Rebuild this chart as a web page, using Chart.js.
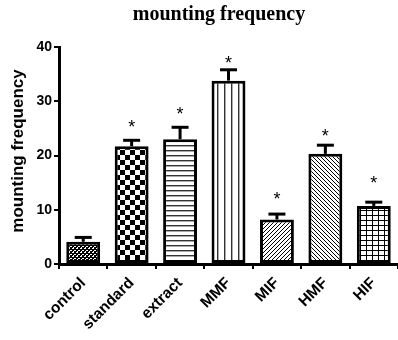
<!DOCTYPE html>
<html>
<head>
<meta charset="utf-8">
<script src="https://cdn.jsdelivr.net/npm/chart.js@4/dist/chart.umd.min.js"></script>
<style>
  html, body { margin: 0; padding: 0; background: #fff; }
  #wrap { width: 398px; height: 340px; }
</style>
</head>
<body>
<div id="wrap"><canvas id="c"></canvas></div>
<script>
/* ─── DATA ───────────────────────────────────────────── */
const groups = ['control', 'standard', 'extract', 'MMF', 'MIF', 'HMF', 'HIF']
const means  = [4.1, 21.7, 23.0, 33.8, 8.2, 20.3, 10.7]
const errs   = [0.8, 1.1, 2.2, 2.0, 1.0, 1.6, 0.7]
// level (in y units) where the significance star sits
const starAt = [null, 25.9, 28.4, 37.8, 12.7, 24.3, 15.7]
const yTicks = [0, 10, 20, 30, 40]

const TITLE  = 'mounting frequency'
const YTITLE = 'mounting frequency'
const SANS   = '"Liberation Sans", Arial, sans-serif'
const SERIF  = '"Liberation Serif", "Times New Roman", serif'

/* ─── PATTERNS ───────────────────────────────────────── */
const canvas = document.getElementById('c')
const ctx = canvas.getContext('2d')

const mkPattern = (w, h, draw) => {
  const cv = document.createElement('canvas')
  cv.width = w; cv.height = h
  const g = cv.getContext('2d')
  g.fillStyle = '#fff'
  g.fillRect(0, 0, w, h)
  g.fillStyle = '#000'
  draw(g, w, h)
  return ctx.createPattern(cv, 'repeat')
}

const patterns = [
  // control: fine dark speckle
  mkPattern(4, 4, g => {
    g.fillRect(0, 0, 4, 4)
    g.fillStyle = '#fff'
    g.fillRect(0, 0, 2, 1); g.fillRect(2, 2, 2, 1); g.fillRect(1, 3, 1, 1)
  }),
  // standard: checkerboard
  mkPattern(10, 10, g => { g.fillRect(0, 0, 5, 5); g.fillRect(5, 5, 5, 5) }),
  // extract: horizontal lines
  mkPattern(1, 5, g => { g.fillStyle = '#333'; g.fillRect(0, 0, 1, 1); g.fillStyle = '#aaa'; g.fillRect(0, 1, 1, 1) }),
  // MMF: vertical lines
  mkPattern(7, 1, g => { g.fillStyle = '#333'; g.fillRect(0, 0, 1, 1); g.fillStyle = '#aaa'; g.fillRect(1, 0, 1, 1) }),
  // MIF: "/" hatch
  mkPattern(4, 4, g => { for (let i = 0; i < 4; i++) g.fillRect(i, 3 - i, 1, 1) }),
  // HMF: "\" hatch
  mkPattern(4, 4, g => { for (let i = 0; i < 4; i++) g.fillRect(i, i, 1, 1) }),
  // HIF: grid
  mkPattern(6, 5, g => { g.fillRect(0, 0, 1, 5); g.fillRect(0, 0, 6, 1) }),
]

/* ─── EXTRAS: error bars, stars, titles ─────────────── */
const extras = {
  id: 'extras',
  afterDatasetsDraw(chart) {
    const { ctx, scales: { x, y } } = chart
    ctx.save()
    ctx.strokeStyle = '#000'
    ctx.fillStyle = '#000'
    ctx.lineWidth = 3
    means.forEach((m, i) => {
      const cx = x.getPixelForValue(i)
      const yTop = y.getPixelForValue(m)
      const yErr = y.getPixelForValue(m + errs[i])
      ctx.beginPath(); ctx.moveTo(cx, yTop); ctx.lineTo(cx, yErr); ctx.stroke()
      ctx.beginPath(); ctx.moveTo(cx - 8.5, yErr); ctx.lineTo(cx + 8.5, yErr); ctx.stroke()
      if (starAt[i] != null) {
        ctx.font = '18px ' + SANS
        ctx.textAlign = 'center'
        ctx.textBaseline = 'alphabetic'
        ctx.fillText('*', cx, y.getPixelForValue(starAt[i]) + 10)
      }
    })
    ctx.restore()
  },
  afterDraw(chart) {
    const { ctx } = chart
    ctx.save()
    ctx.fillStyle = '#000'
    ctx.textAlign = 'center'
    ctx.textBaseline = 'alphabetic'
    ctx.font = 'bold 20px ' + SERIF
    ctx.fillText(TITLE, 219, 19.5)
    ctx.translate(18, 151)
    ctx.rotate(-Math.PI / 2)
    ctx.textBaseline = 'middle'
    ctx.font = 'bold 17px ' + SANS
    ctx.fillText(YTITLE, 0, 0)
    ctx.restore()
  },
}

/* ─── CHART ─────────────────────────────────────────── */
const tickGrid = { display: true, drawOnChartArea: false, drawTicks: true, tickLength: 5, color: '#000', lineWidth: 2 }

new Chart(canvas, {
  type: 'bar',
  data: {
    labels: groups,
    datasets: [{
      data: means,
      backgroundColor: patterns,
      borderColor: '#000',
      borderWidth: 3,
      borderSkipped: false,
      barPercentage: 0.7,
      categoryPercentage: 1,
    }],
  },
  options: {
    responsive: true,
    maintainAspectRatio: false,
    animation: false,
    layout: { padding: { top: 47, right: 0, left: 0, bottom: 0 } },
    plugins: { legend: { display: false }, tooltip: { enabled: false }, title: { display: false } },
    scales: {
      x: {
        grid: tickGrid,
        border: { display: true, color: '#000', width: 3 },
        ticks: {
          color: '#000',
          font: { family: SANS, weight: 'bold', size: 15.5 },
          minRotation: 45, maxRotation: 45, padding: 5,
        },
        afterFit: s => { s.height = 76 },
      },
      y: {
        min: 0, max: 40,
        afterBuildTicks: s => { s.ticks = yTicks.map(v => ({ value: v })) },
        grid: tickGrid,
        border: { display: true, color: '#000', width: 3 },
        ticks: { color: '#000', font: { family: SANS, weight: 'bold', size: 14 }, padding: 2 },
        afterFit: s => { s.width = 59 },
      },
    },
  },
  plugins: [extras],
})
</script>
</body>
</html>
